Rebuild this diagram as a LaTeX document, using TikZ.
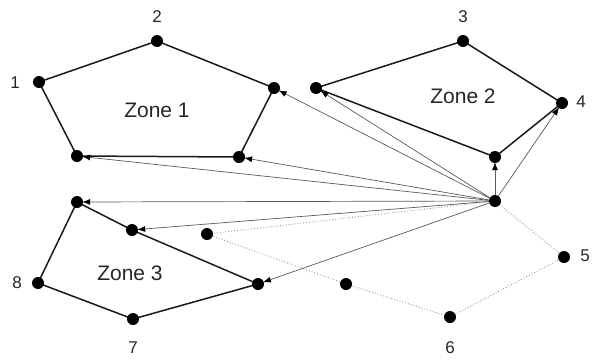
\documentclass[tikz,border=0pt]{standalone}
\usepackage{fontspec}
\setmainfont{Liberation Sans}
\usetikzlibrary{arrows.meta,backgrounds}
\begin{document}
\begin{tikzpicture}[x=1pt,y=-1pt,
  dot/.style={circle,fill=black,inner sep=0pt,minimum size=12pt},
  zone/.style={line width=1.5pt,black!90},
  link/.style={line width=0.7pt,black!65,-{Latex[length=8pt,width=6pt,fill=black,color=black]},shorten >=-1pt},
  route/.style={line width=0.9pt,black!40,dotted},
  lbl/.style={font=\fontsize{17}{17}\selectfont,text=black!85},
  zlbl/.style={font=\fontsize{21}{21}\selectfont,text=black!85}]
\useasboundingbox (0,0) rectangle (601,359);
% Zone 1
\node[dot] (p1) at (39,82) {};
\node[dot] (p2) at (157,41) {};
\node[dot] (a1) at (274,88) {};
\node[dot] (a2) at (239,157) {};
\node[dot] (a3) at (77,156) {};
% Zone 2
\node[dot] (b1) at (316,88) {};
\node[dot] (p3) at (463,41) {};
\node[dot] (p4) at (562,103) {};
\node[dot] (b2) at (495,157) {};
% Zone 3
\node[dot] (c1) at (77,202) {};
\node[dot] (c2) at (132,230) {};
\node[dot] (c3) at (258,284) {};
\node[dot] (p7) at (133,319) {};
\node[dot] (p8) at (38,283) {};
% others
\node[dot] (s) at (495,201) {};
\node[dot] (p5) at (564,257) {};
\node[dot] (p6) at (450,317) {};
\node[dot] (d1) at (346,284) {};
\node[dot] (d2) at (207,234) {};
% labels
\node[lbl] (l1) at (15,83) {1};
\node[lbl] (l2) at (157,17) {2};
\node[lbl] (l3) at (463,17) {3};
\node[lbl] (l4) at (581,102) {4};
\node[lbl] (l5) at (585,256) {5};
\node[lbl] (l6) at (450,348) {6};
\node[lbl] (l7) at (133,348) {7};
\node[lbl] (l8) at (17,283) {8};
\node[zlbl] (z1) at (157,110) {Zone 1};
\node[zlbl] (z2) at (463,96) {Zone 2};
\node[zlbl] (z3) at (130,273) {Zone 3};
\begin{scope}[on background layer]
% polygons
\draw[zone] (p1.center) -- (p2.center) -- (a1.center) -- (a2.center) -- (a3.center) -- cycle;
\draw[zone] (b1.center) -- (p3.center) -- (p4.center) -- (b2.center) -- cycle;
\draw[zone] (c1.center) -- (c2.center) -- (c3.center) -- (p7.center) -- (p8.center) -- cycle;
\draw[route] (s.center) -- (p5.center) -- (p6.center) -- (d1.center) -- (d2.center) -- cycle;
% links
\foreach \t in {a1,a2,a3,b1,b2,p4,c1,c2,c3}
  \draw[link] (s) -- (\t);
\end{scope}
\end{tikzpicture}
\end{document}
